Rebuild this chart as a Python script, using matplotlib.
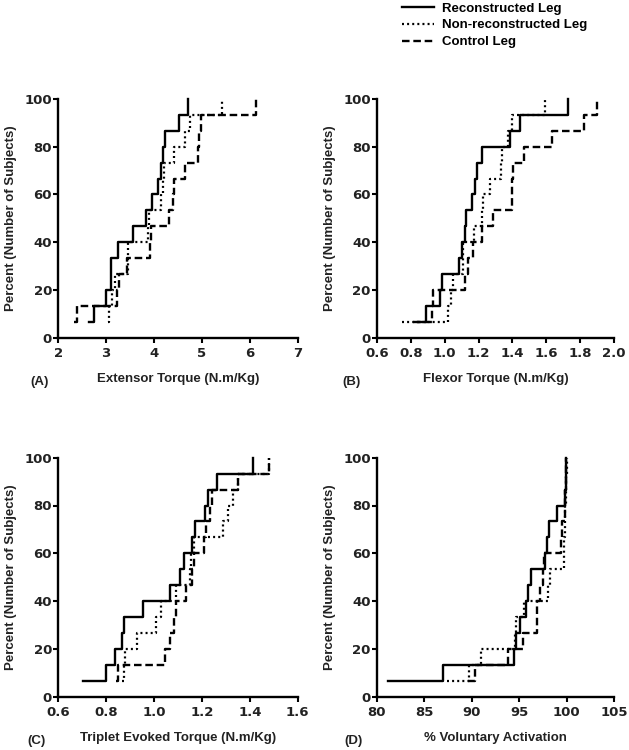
import numpy as np
import matplotlib
matplotlib.use("Agg")
import matplotlib.pyplot as plt
from matplotlib.lines import Line2D

# ---- data (sorted subject values, 15 subjects per leg) ----
percent = [100 * k / 15 for k in range(1, 16)]

series_names = ["Reconstructed Leg", "Non-reconstructed Leg", "Control Leg"]

ext_recon = [2.65, 2.75, 2.99, 3.10, 3.10, 3.25, 3.57, 3.84, 3.96, 4.09, 4.14, 4.19, 4.23, 4.53, 4.70]
ext_nonrec = [3.03, 3.06, 3.12, 3.18, 3.45, 3.46, 3.88, 3.90, 4.14, 4.19, 4.21, 4.42, 4.65, 4.76, 5.41]
ext_control = [2.33, 2.40, 3.22, 3.27, 3.43, 3.91, 3.93, 4.32, 4.40, 4.41, 4.65, 4.91, 4.93, 4.98, 6.13]

flx_recon = [0.84, 0.89, 0.975, 0.985, 1.085, 1.105, 1.12, 1.125, 1.16, 1.18, 1.19, 1.22, 1.385, 1.445, 1.73]
flx_nonrec = [0.745, 1.02, 1.04, 1.05, 1.11, 1.11, 1.175, 1.22, 1.225, 1.27, 1.33, 1.34, 1.375, 1.40, 1.59]
flx_control = [0.81, 0.925, 0.93, 1.12, 1.14, 1.165, 1.22, 1.285, 1.395, 1.40, 1.405, 1.47, 1.635, 1.825, 1.90]

trp_recon = [0.704, 0.80, 0.837, 0.865, 0.874, 0.955, 1.067, 1.108, 1.125, 1.157, 1.171, 1.213, 1.227, 1.262, 1.415]
trp_nonrec = [0.865, 0.875, 0.88, 0.93, 1.01, 1.03, 1.09, 1.15, 1.155, 1.165, 1.29, 1.31, 1.33, 1.35, 1.48]
trp_control = [0.84, 0.85, 1.045, 1.065, 1.085, 1.09, 1.135, 1.16, 1.165, 1.21, 1.215, 1.235, 1.24, 1.35, 1.48]

va_recon = [81.2, 86.95, 94.4, 94.7, 95.1, 95.7, 95.9, 96.2, 97.7, 97.9, 98.1, 98.95, 99.8, 99.9, 99.95]
va_nonrec = [87.4, 89.7, 91.0, 94.6, 94.7, 95.5, 98.0, 98.2, 99.7, 99.75, 99.8, 99.85, 99.9, 99.95, 100.0]
va_control = [89.6, 90.3, 93.8, 95.4, 96.85, 96.9, 97.2, 97.55, 97.6, 99.4, 99.5, 99.8, 99.85, 99.9, 99.95]

panel_letters = ["(A)", "(B)", "(C)", "(D)"]
xlabels = ["Extensor Torque (N.m/Kg)", "Flexor Torque (N.m/Kg)",
           "Triplet Evoked Torque (N.m/Kg)", "% Voluntary Activation"]
xticks_list = [[2, 3, 4, 5, 6, 7],
               [0.6, 0.8, 1.0, 1.2, 1.4, 1.6, 1.8, 2.0],
               [0.6, 0.8, 1.0, 1.2, 1.4, 1.6],
               [80, 85, 90, 95, 100, 105]]
xtick_fmt = ["{:.0f}", "{:.1f}", "{:.1f}", "{:.0f}"]
yticks = [0, 20, 40, 60, 80, 100]
panel_data = [(ext_recon, ext_nonrec, ext_control),
              (flx_recon, flx_nonrec, flx_control),
              (trp_recon, trp_nonrec, trp_control),
              (va_recon, va_nonrec, va_control)]

# ---- styling ----
W, H = 629, 750
fig = plt.figure(figsize=(W / 100, H / 100), dpi=100)
lab_font = dict(family=["Liberation Sans", "DejaVu Sans"], weight="bold", size=9.5, color="#222222")
tick_font = dict(family=["DejaVu Sans"], weight="bold", size=9.5, color="#222222")

styles = [dict(color="black", lw=1.7, linestyle="-"),
          dict(color="black", lw=1.6, linestyle=(0, (0.9, 1.4))),
          dict(color="black", lw=1.7, linestyle=(0, (3.2, 1.6)))]

# axes rectangles in pixels (left, top, right, bottom)
rects = [(58.3, 99.0, 297.7, 337.7), (377.0, 99.0, 614.0, 337.7),
         (58.3, 457.7, 297.7, 696.7), (377.0, 457.7, 614.0, 696.7)]
letter_x = [-0.08, -0.108, -0.093, -0.099]

for i, (l, t, r, b) in enumerate(rects):
    ax = fig.add_axes([l / W, 1 - b / H, (r - l) / W, (b - t) / H])
    for vals, st in zip(panel_data[i], styles):
        ax.step(vals, percent, where="post", clip_on=False, **st)
    xt = xticks_list[i]
    ax.set_xlim(xt[0], xt[-1])
    ax.set_ylim(0, 100)
    ax.set_xticks(xt)
    ax.set_xticklabels([xtick_fmt[i].format(v) for v in xt], fontdict=tick_font)
    ax.set_yticks(yticks)
    ax.set_yticklabels([str(v) for v in yticks], fontdict=tick_font)
    for s in ["top", "right"]:
        ax.spines[s].set_visible(False)
    for s in ["left", "bottom"]:
        ax.spines[s].set_linewidth(1.7)
    ax.tick_params(axis="both", direction="out", length=3.5, width=1.5)
    ax.tick_params(axis="x", pad=3.5)
    ax.tick_params(axis="y", pad=1.0)
    ax.set_xlabel(xlabels[i], fontdict=lab_font, labelpad=9)
    ax.set_ylabel("Percent (Number of Subjects)", fontdict=lab_font, labelpad=5)
    ax.text(letter_x[i], -0.185, panel_letters[i], transform=ax.transAxes,
            ha="center", va="center", fontdict=lab_font)

handles = [Line2D([], [], **st) for st in styles]
fig.legend(handles, series_names, loc="upper left", bbox_to_anchor=(397 / W, 1 + 3 / H),
           frameon=False, prop=dict(family="Liberation Sans", weight="bold", size=9.5),
           handlelength=2.4, handletextpad=0.6, labelspacing=0.35, borderaxespad=0.0)

fig.savefig("out.png", dpi=100)
